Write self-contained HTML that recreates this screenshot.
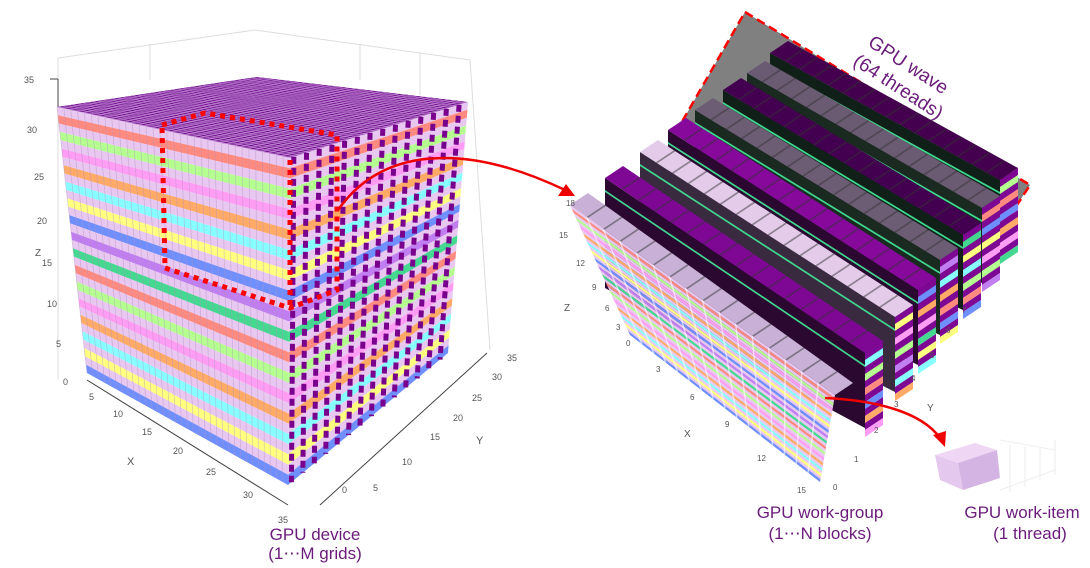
<!DOCTYPE html>
<html><head><meta charset="utf-8">
<style>
html,body{margin:0;padding:0;background:#fff;}
svg{display:block;}
text{font-family:"Liberation Sans",sans-serif;}
.t{fill:#555;font-size:9px;}
.cap{fill:#6a1b7a;font-size:17px;text-anchor:middle;}
</style></head>
<body>
<svg id="s" width="1090" height="568" viewBox="0 0 1090 568" xmlns="http://www.w3.org/2000/svg">
<g id="grid" stroke="#ddd" stroke-width="1" fill="none">
<line x1="58" y1="58" x2="58" y2="380"/>
<line x1="58" y1="58" x2="255" y2="30"/>
<line x1="255" y1="30" x2="470" y2="60"/>
<line x1="470" y1="60" x2="490" y2="350"/>
<line x1="150" y1="44" x2="150" y2="80"/>
<line x1="360" y1="45" x2="360" y2="80"/>
<line x1="420" y1="52" x2="420" y2="95"/>
</g>
<line x1="50" y1="79" x2="58" y2="79" stroke="#444"/>
<line x1="58" y1="79" x2="58" y2="107" stroke="#444"/>
<g id="left"></g>
<g id="right"></g>
<g class="t">
<text x="24" y="83">35</text><text x="27" y="133">30</text><text x="34" y="180">25</text><text x="37" y="224">20</text><text x="42" y="266">15</text><text x="47" y="307">10</text><text x="56" y="347">5</text><text x="63" y="385">0</text>
<text x="35" y="256" font-size="10">Z</text>
<text x="89" y="400">5</text><text x="113" y="417">10</text><text x="142" y="435">15</text><text x="173" y="454">20</text><text x="206" y="475">25</text><text x="243" y="498">30</text><text x="278" y="523">35</text>
<text x="127" y="465" font-size="11">X</text>
<text x="507" y="361">35</text><text x="492" y="380">30</text><text x="472" y="401">25</text><text x="453" y="421">20</text><text x="430" y="440">15</text><text x="402" y="465">10</text><text x="373" y="491">5</text><text x="342" y="493">0</text>
<text x="476" y="444" font-size="11">Y</text>
<text x="566" y="206" font-size="8">18</text><text x="559" y="238" font-size="8">15</text><text x="576" y="266" font-size="8">12</text><text x="592" y="290" font-size="8">9</text><text x="605" y="311" font-size="8">6</text><text x="616" y="330" font-size="8">3</text><text x="626" y="346" font-size="8">0</text>
<text x="564" y="311" font-size="10">Z</text>
<text x="656" y="372" font-size="8">3</text><text x="690" y="400" font-size="8">6</text><text x="725" y="427" font-size="8">9</text><text x="757" y="461" font-size="8">12</text><text x="797" y="493" font-size="8">15</text>
<text x="684" y="437" font-size="10">X</text>
<text x="833" y="490" font-size="8">0</text><text x="854" y="462" font-size="8">1</text><text x="874" y="433" font-size="8">2</text><text x="894" y="407" font-size="8">3</text><text x="911" y="381" font-size="8">4</text><text x="930" y="358" font-size="8">5</text><text x="946" y="333" font-size="8">6</text><text x="962" y="313" font-size="8">7</text>
<text x="927" y="411" font-size="10">Y</text>
</g>
<line x1="320" y1="505" x2="487" y2="353" stroke="#444" stroke-width="1"/>
<line x1="87" y1="380" x2="288" y2="505" stroke="#444" stroke-width="1"/>
<path d="M338,210 C380,150 460,140 565,190" stroke="#e00" stroke-width="2.5" fill="none"/>
<polygon points="575,196 558,196 566,184" fill="#e00"/>
<g stroke="#eee" fill="none"><line x1="1000" y1="440" x2="1055" y2="450"/><line x1="1000" y1="490" x2="1055" y2="470"/><line x1="1055" y1="440" x2="1055" y2="475"/><line x1="1010" y1="445" x2="1010" y2="492"/><line x1="1025" y1="447" x2="1025" y2="487"/><line x1="1040" y1="448" x2="1040" y2="481"/></g>
<polygon points="935,455 975,443 997,450 958,463" fill="#eed6f4"/>
<polygon points="935,455 958,463 963,490 940,480" fill="#e4c8ee"/>
<polygon points="958,463 997,450 1000,478 963,490" fill="#d4b4e2"/>
<text class="cap" x="315" y="540">GPU device</text>
<text class="cap" x="315" y="559">(1⋯M grids)</text>
<text class="cap" x="820" y="518">GPU work-group</text>
<text class="cap" x="820" y="539">(1⋯N blocks)</text>
<text class="cap" x="1022" y="518">GPU work-item</text>
<text class="cap" x="1030" y="539">(1 thread)</text>
<text class="cap" transform="translate(905,70) rotate(33)" style="font-size:19px">GPU wave</text>
<text class="cap" transform="translate(895,92) rotate(33)" style="font-size:19px">(64 threads)</text>
</svg>
<script>
var NS="http://www.w3.org/2000/svg";
function P(g,pts,fill,extra){var p=document.createElementNS(NS,"polygon");p.setAttribute("points",pts.map(function(a){return a[0].toFixed(1)+","+a[1].toFixed(1)}).join(" "));p.setAttribute("fill",fill);if(extra)for(var k in extra)p.setAttribute(k,extra[k]);g.appendChild(p);return p;}
function L(a,b,t){return [a[0]+(b[0]-a[0])*t,a[1]+(b[1]-a[1])*t];}
var cols=["#ff8a80","#b4ff90","#ff9cf4","#ffaa66","#88ffff","#ffff80","#6f8fff","#c07ef0","#44d890","#ff8a80","#b4ff90","#ff9cf4","#ffaa66","#88ffff","#ffff80","#6f8fff"];
var lav="#e8c8f0";
var G=document.getElementById("left");
var A=[57,107],F=[290,158],R=[468,102],B=[257,77],Ab=[87,373],Fb=[288,485],Rb=[448,353];
P(G,[A,B,R,F],"#9c4fb4");
for(var i=0;i<34;i++){var t=i/34;P(G,[L(A,F,t),L(B,R,t),L(B,R,t+0.012),L(A,F,t+0.012)],"#6e0a8a");}
for(var i=0;i<40;i++){var t=i/40;P(G,[L(A,B,t),L(F,R,t),L(F,R,t+0.01),L(A,B,t+0.01)],"#e0b8ee",{opacity:0.6});}
var n=32;
for(var i=0;i<n;i++){var t0=i/n,t1=(i+1)/n;var c=(i%2==0)?lav:cols[(i-1)/2|0];
P(G,[L(A,Ab,t0),L(F,Fb,t0),L(F,Fb,t1),L(A,Ab,t1)],c);
P(G,[L(F,Fb,t0),L(R,Rb,t0),L(R,Rb,t1),L(F,Fb,t1)],c);}
for(var j=0;j<34;j++){var t=j/34;var p1=L(A,F,t),p2=L(Ab,Fb,t);var l=document.createElementNS(NS,"line");l.setAttribute("x1",p1[0]);l.setAttribute("y1",p1[1]);l.setAttribute("x2",p2[0]);l.setAttribute("y2",p2[1]);l.setAttribute("stroke","#b090c0");l.setAttribute("stroke-width","0.7");l.setAttribute("opacity","0.5");G.appendChild(l);}
for(var j=0;j<14;j++){var t=(j+0.3)/14;var p1=L(F,R,t),p2=L(Fb,Rb,t);var l=document.createElementNS(NS,"line");l.setAttribute("x1",p1[0]);l.setAttribute("y1",p1[1]);l.setAttribute("x2",p2[0]);l.setAttribute("y2",p2[1]);l.setAttribute("stroke","#78008c");l.setAttribute("stroke-width","5");l.setAttribute("stroke-dasharray","7 4");G.appendChild(l);}
var d=document.createElementNS(NS,"path");d.setAttribute("d","M162,125 L205,113 L337,135 L337,290 L290,308 L165,268 Z M290,160 L290,308");d.setAttribute("stroke","#f00");d.setAttribute("stroke-width","5");d.setAttribute("stroke-dasharray","5 5");d.setAttribute("fill","none");G.appendChild(d);
var H=document.getElementById("right");
P(H,[[745,12],[1030,185],[962,290],[683,120]],"#808080",{stroke:"#f00","stroke-width":"2.5","stroke-dasharray":"9 5"});
var starts=[[570,205],[605,178],[640,152],[668,130],[695,110],[723,90],[747,73],[770,53]];
var vecs=[[265,190],[260,175],[255,165],[250,160],[245,150],[240,145],[235,135],[230,127]];
var tops=["#c8b0d6","#7e0894","#e4cbea","#86099c","#6c5c74","#440050","#6a5a72","#44004e"];
var fronts=["#c8b0d6","#2a0830","#3a2a40","#2a0830","#1a2a20","#102018","#1a2a20","#102018"];
for(var k=7;k>=0;k--){var s=starts[k],v=vecs[k],e=[s[0]+v[0],s[1]+v[1]];var o=[18,-12];
var h0=(k==0)?130:110,h1=(k==0)?87:75;
if(k==0){var Sb=[s[0]+60,s[1]+h0],Eb=[e[0]-15,e[1]+h1];
for(var i=0;i<32;i++){var t0=i/32,t1=(i+1)/32;var c=(i%2==0)?lav:cols[(i-1)/2|0];P(H,[L(s,Sb,t0),L(e,Eb,t0),L(e,Eb,t1),L(s,Sb,t1)],c);}
for(var j=1;j<16;j++){var a=L(s,e,j/16),b=L(Sb,Eb,j/16);var l=document.createElementNS(NS,"line");l.setAttribute("x1",a[0]);l.setAttribute("y1",a[1]);l.setAttribute("x2",b[0]);l.setAttribute("y2",b[1]);l.setAttribute("stroke","#fff");l.setAttribute("stroke-width","1.5");l.setAttribute("opacity","0.6");H.appendChild(l);}
}else{
P(H,[s,e,[e[0],e[1]+h1],[s[0],s[1]+h0]],fronts[k]);
P(H,[[s[0],s[1]+12],[e[0],e[1]+12],[e[0],e[1]+14],[s[0],s[1]+14]],"#40d890");
var ee=[e[0]+o[0],e[1]+o[1]];
for(var i=0;i<12;i++){P(H,[[e[0],e[1]+i*7],[ee[0],ee[1]+i*7],[ee[0],ee[1]+i*7+7],[e[0],e[1]+i*7+7]],(i%2==0)?"#7e0894":cols[(i*3+k)%16]);}
}
P(H,[s,e,[e[0]+o[0],e[1]+o[1]],[s[0]+o[0],s[1]+o[1]]],tops[k]);
for(var j=1;j<16;j++){var p=L(s,e,j/16);P(H,[p,[p[0]+1.5,p[1]+1],[p[0]+o[0]+1.5,p[1]+o[1]+1],[p[0]+o[0],p[1]+o[1]]],"#333",{opacity:0.5});}
}
var ar=document.createElementNS(NS,"path");ar.setAttribute("d","M825,398 C870,400 920,410 940,438");ar.setAttribute("stroke","#e00");ar.setAttribute("stroke-width","2.5");ar.setAttribute("fill","none");H.appendChild(ar);
P(H,[[945,447],[933,435],[946,431]],"#e00");
</script>
</body></html>
